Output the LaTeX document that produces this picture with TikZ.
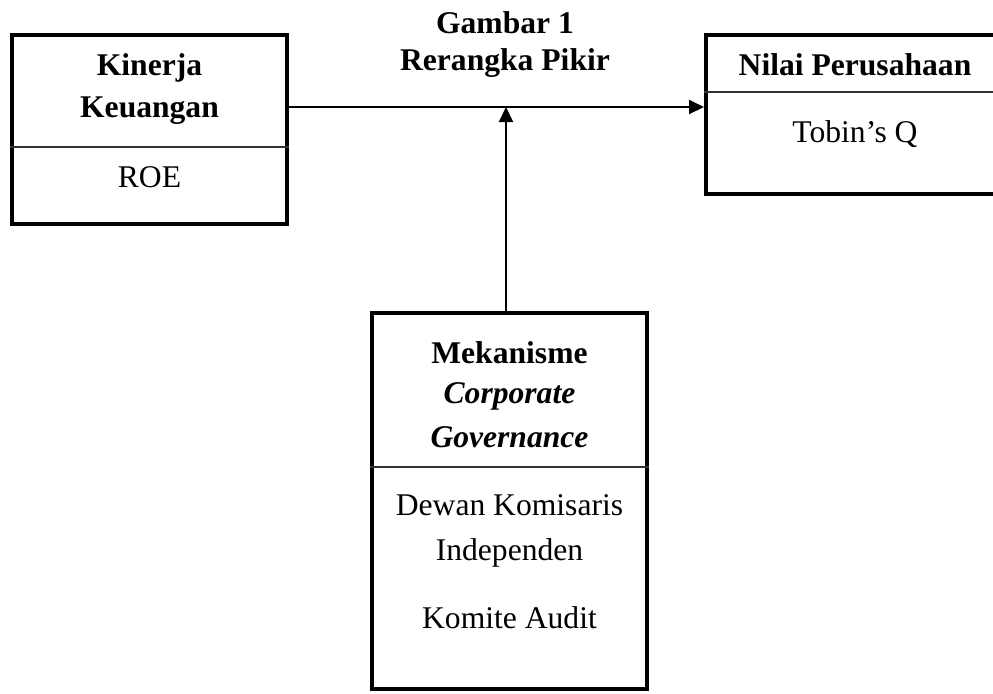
\documentclass[tikz,border=0pt]{standalone}
\usepackage{fontspec}
\setmainfont{Liberation Serif}
\usetikzlibrary{arrows.meta}

\begin{document}
\begin{tikzpicture}[x=0.5pt, y=-0.5pt]
    % Define styles
    \tikzstyle{box} = [rectangle, draw=black, line width=2pt, inner sep=0pt]
    \tikzstyle{divider} = [draw, line width=1pt, black!80]
    \tikzstyle{line} = [draw, -{Triangle[length=7.5pt, width=7pt]}, line width=1pt]
    \tikzstyle{txt} = [anchor=base, inner sep=0pt, font=\fontsize{15.8}{21}\selectfont]
    \tikzstyle{head} = [anchor=base, inner sep=0pt, font=\fontsize{15.8}{21}\selectfont\bfseries]

    \useasboundingbox (0,0) rectangle (993,693);
    \clip (0,0) rectangle (993,693);

    % Place boxes
    \node [box, minimum width=137.5pt, minimum height=94.5pt] (kinerja) at (149.5,129.5) {};
    \node [box, minimum width=149pt, minimum height=79.5pt] (nilai) at (855,114.5) {};
    \node [box, minimum width=137.5pt, minimum height=188pt] (mekanisme) at (509.5,501) {};
    \coordinate (join) at (506,107);

    % Place texts
    \node [head] (judul) at (505,33) {Gambar 1};
    \node [head] (subjudul) at (505,70) {Rerangka Pikir};
    \node [head] (kin1) at (149.5,75) {Kinerja};
    \node [head] (kin2) at (149.5,117) {Keuangan};
    \node [txt] (roe) at (149.5,187) {ROE};
    \node [head] (nil1) at (855,75) {Nilai Perusahaan};
    \node [txt] (tobin) at (855,142) {Tobin’s Q};
    \node [head] (mek1) at (509.5,363) {Mekanisme};
    \node [head] (mek2) at (509.5,403) {\itshape Corporate};
    \node [head] (mek3) at (509.5,447) {\itshape Governance};
    \node [txt] (dki1) at (509.5,515) {Dewan Komisaris};
    \node [txt] (dki2) at (509.5,560) {Independen};
    \node [txt] (audit) at (509.5,628) {Komite Audit};

    % Draw dividers
    \path [divider] (kinerja.west |- 0,147) -- (kinerja.east |- 0,147);
    \path [divider] (nilai.west |- 0,92) -- (nilai.east |- 0,92);
    \path [divider] (mekanisme.west |- 0,467) -- (mekanisme.east |- 0,467);

    % Draw edges
    \path [line] (kinerja.east |- join) -- (nilai.west |- join);
    \path [line] (mekanisme.north -| join) -- (join);
\end{tikzpicture}
\end{document}
